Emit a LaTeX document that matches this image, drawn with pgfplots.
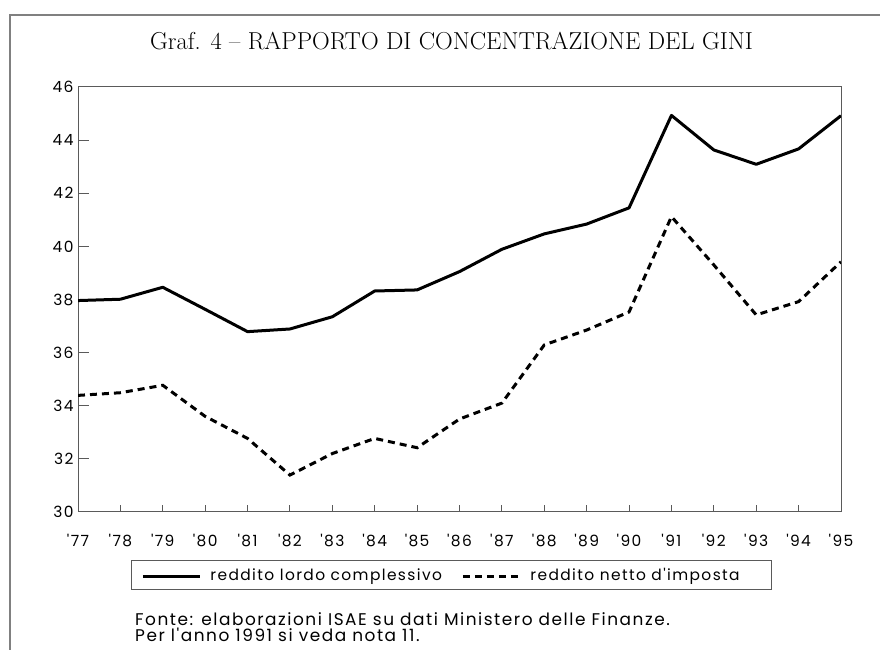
\documentclass[border=0pt]{standalone}
\usepackage{fontspec}
\usepackage{pgfplots}
\pgfplotsset{compat=1.18}
\newfontfamily\sansf[LetterSpace=9]{Poppins}
\definecolor{framegray}{RGB}{128,128,128}
\definecolor{axgray}{RGB}{90,90,90}
\begin{document}
\begin{tikzpicture}
\useasboundingbox (0bp,0bp) rectangle (880bp,650bp);
\draw[framegray, line width=2bp] (10bp,0bp) -- (10bp,635bp) -- (880bp,635bp);
\node[font=\fontsize{24.6}{28}\selectfont, anchor=base, inner sep=0pt] at (451.5bp,600bp) {Graf. 4 -- RAPPORTO DI CONCENTRAZIONE DEL GINI};
\begin{axis}[
  at={(78bp,138bp)}, anchor=south west,
  scale only axis, width=763bp, height=425bp,
  xmin=77, xmax=95, ymin=30, ymax=46,
  axis line style={axgray, line width=1bp},
  xtick={77,...,95},
  xticklabels={'77,'78,'79,'80,'81,'82,'83,'84,'85,'86,'87,'88,'89,'90,'91,'92,'93,'94,'95},
  ytick={30,32,...,46},
  xtick pos=bottom, ytick pos=left,
  tick align=inside,
  tick style={axgray, line width=1bp},
  xtick style={/pgfplots/major tick length=7bp},
  ytick style={/pgfplots/major tick length=11bp},
  ticklabel style={font=\sansf\fontsize{15.5}{18}\selectfont},
  /pgf/number format/assume math mode=true,
  xticklabel style={anchor=north, yshift=-19bp},
  yticklabel style={anchor=east, xshift=-1bp},
  legend columns=2,
  legend style={at={(0.4895,-0.148)}, anchor=center, draw=axgray, line width=1bp,
    font=\sansf\fontsize{15.5}{18}\selectfont,
    inner xsep=10bp, inner ysep=8bp,
    nodes={inner sep=0pt, anchor=base west},
    /tikz/every odd column/.append style={column sep=9bp},
    /tikz/every even column/.append style={column sep=0bp}},
  legend image code/.code={\draw[#1, line width=3bp] (0bp,4bp) -- (57bp,4bp);},
]
\addplot[black, line width=3bp, line join=round] coordinates {
(77,37.96) (78,38.01) (79,38.46) (80,37.63) (81,36.79) (82,36.89) (83,37.35)
(84,38.32) (85,38.36) (86,39.05) (87,39.89) (88,40.47) (89,40.84) (90,41.45)
(91,44.93) (92,43.63) (93,43.09) (94,43.67) (95,44.92)};
\addlegendentry{\makebox[251bp][l]{reddito lordo complessivo}}
\addplot[black, line width=3bp, dash pattern=on 7bp off 5bp] coordinates {
(77,34.39) (78,34.49) (79,34.77) (80,33.6) (81,32.77) (82,31.39) (83,32.2)
(84,32.77) (85,32.42) (86,33.5) (87,34.1) (88,36.29) (89,36.85) (90,37.53)
(91,41.12) (92,39.3) (93,37.42) (94,37.92) (95,39.42)};
\addlegendentry{\makebox[231bp][l]{reddito netto d'imposta}}
\end{axis}
\node[anchor=base west, inner sep=0pt, font=\sansf\fontsize{17}{17}\selectfont] at (135bp,25bp) {Fonte: elaborazioni ISAE su dati Ministero delle Finanze.};
\node[anchor=base west, inner sep=0pt, font=\sansf\fontsize{17}{17}\selectfont] at (135bp,8.3bp) {Per l'anno 1991 si veda nota 11.};
\end{tikzpicture}
\end{document}
